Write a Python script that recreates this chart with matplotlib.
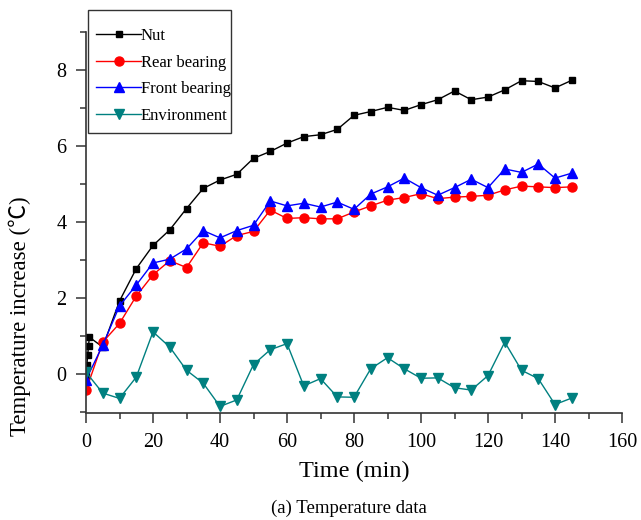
import matplotlib
matplotlib.use("Agg")
import matplotlib.pyplot as plt
from matplotlib.ticker import MultipleLocator
from matplotlib.patches import Rectangle

plt.rcParams['font.family'] = ['Liberation Serif', 'Noto Sans CJK SC', 'DejaVu Sans']

# ---- data ----
t_nut = [0, 0.25, 0.5, 0.75, 1.0, 5, 10, 15, 20, 25, 30, 35, 40, 45, 50, 55, 60, 65, 70,
         75, 80, 85, 90, 95, 100, 105, 110, 115, 120, 125, 130, 135, 140, 145]
nut = [-0.05, 0.25, 0.5, 0.75, 0.98, 0.72, 1.93, 2.78, 3.39, 3.80, 4.36, 4.89, 5.11, 5.26,
       5.68, 5.86, 6.08, 6.25, 6.30, 6.44, 6.81, 6.91, 7.02, 6.94, 7.09, 7.22, 7.45, 7.22,
       7.29, 7.48, 7.72, 7.70, 7.53, 7.73]

t = [0, 5, 10, 15, 20, 25, 30, 35, 40, 45, 50, 55, 60, 65, 70,
     75, 80, 85, 90, 95, 100, 105, 110, 115, 120, 125, 130, 135, 140, 145]
rear = [-0.42, 0.85, 1.34, 2.06, 2.62, 2.99, 2.81, 3.46, 3.37, 3.65, 3.76, 4.32, 4.10, 4.12,
        4.09, 4.09, 4.27, 4.43, 4.58, 4.65, 4.75, 4.62, 4.66, 4.68, 4.71, 4.85, 4.95, 4.93,
        4.91, 4.93]
front = [-0.14, 0.77, 1.80, 2.35, 2.93, 3.03, 3.30, 3.78, 3.59, 3.78, 3.92, 4.56, 4.43, 4.50,
         4.40, 4.53, 4.34, 4.74, 4.93, 5.16, 4.91, 4.71, 4.91, 5.13, 4.91, 5.40, 5.31, 5.53,
         5.16, 5.29]
env = [0.06, -0.49, -0.63, -0.07, 1.12, 0.72, 0.11, -0.23, -0.84, -0.67, 0.26, 0.65, 0.81,
       -0.30, -0.11, -0.59, -0.60, 0.15, 0.44, 0.15, -0.10, -0.09, -0.35, -0.41, -0.03, 0.85,
       0.11, -0.11, -0.79, -0.62]

labels = ['Nut', 'Rear bearing', 'Front bearing', 'Environment']
colors = ['#000000', '#ff0000', '#0000ff', '#008080']

W, H = 641, 520
fig = plt.figure(figsize=(W/100, H/100), dpi=100)
ax = fig.add_axes([86/W, 1-412.5/H, 536/W, 380.5/H])

ax.plot(t_nut, nut, '-', color=colors[0], marker='s', ms=5, lw=1.0, label=labels[0])
ax.plot(t, rear, '-', color=colors[1], marker='o', ms=6.5, lw=1.0, label=labels[1])
ax.plot(t, front, '-', color=colors[2], marker='^', ms=7, lw=1.0, label=labels[2])
ax.plot(t, env, '-', color=colors[3], marker='v', ms=7, lw=1.0, label=labels[3])

ax.set_xlim(0, 160)
ax.set_ylim(-1, 9)
ax.xaxis.set_major_locator(MultipleLocator(20))
ax.xaxis.set_minor_locator(MultipleLocator(10))
ax.yaxis.set_major_locator(MultipleLocator(2))
ax.yaxis.set_minor_locator(MultipleLocator(1))

for s in ['top', 'right']:
    ax.spines[s].set_visible(False)
for s in ['left', 'bottom']:
    ax.spines[s].set_linewidth(1.2)
    ax.spines[s].set_color('#333333')

ax.tick_params(which='major', direction='out', length=7.5, width=1.1, labelsize=14.5,
               color='#333333')
ax.tick_params(which='minor', direction='out', length=4, width=1.1, color='#333333')
ax.tick_params(axis='x', which='major', pad=7)
ax.tick_params(axis='y', which='major', pad=6.5)

ax.set_xlabel('Time (min)', fontsize=17.5)
ax.xaxis.set_label_coords(0.5, -(471-412.5)/380.5)
ax.xaxis.label.set_va('center')
ax.set_ylabel('Temperature increase (℃)', fontsize=16.5)
ax.yaxis.set_label_coords(-(86-20)/536, (412.5-316)/380.5)
ax.yaxis.label.set_va('center')

# legend box
rect = Rectangle((88/W, 1-133/H), 143/W, 123/H, transform=fig.transFigure,
                 facecolor='white', edgecolor='#333333', lw=1.0, zorder=4)
fig.add_artist(rect)
leg = fig.legend(loc='upper left', bbox_to_anchor=(96/W, 1-28/H),
                 bbox_transform=fig.transFigure, borderaxespad=0, frameon=False,
                 fontsize=12, handlelength=2.7, handletextpad=0.0,
                 labelspacing=0.64, borderpad=0)
leg.set_zorder(5)

fig.text(349/W, 1-508/H, '(a) Temperature data', ha='center', va='center', fontsize=13.5)

fig.savefig('out.png', dpi=100)
